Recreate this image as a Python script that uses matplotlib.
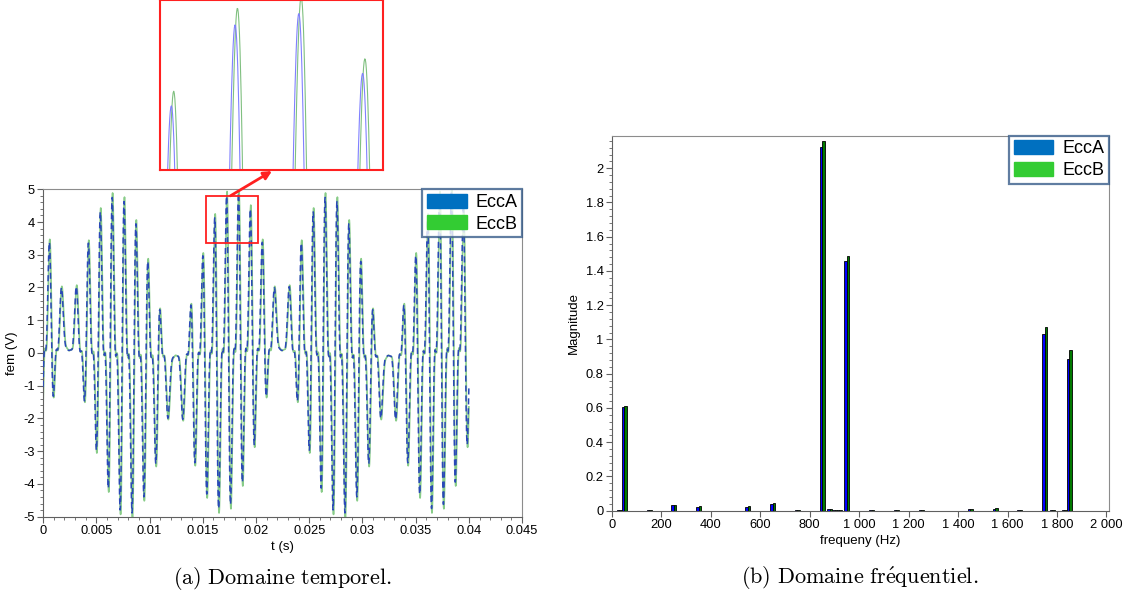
import numpy as np
import matplotlib.pyplot as plt
from matplotlib.patches import Patch, Rectangle
from matplotlib.ticker import MultipleLocator

plt.rcParams['font.family'] = ['Liberation Sans', 'DejaVu Sans']
plt.rcParams['axes.unicode_minus'] = False
plt.rcParams['mathtext.fontset'] = 'cm'

# spectrum
freq = [30, 50, 150, 250, 350, 550, 650, 750, 850, 880, 900, 920, 950,
        1050, 1150, 1250, 1450, 1550, 1650, 1750, 1780, 1830, 1850]
mag_a = [0.004, 0.604, 0.003, 0.033, 0.022, 0.022, 0.038, 0.003, 2.126, 0.008, 0.005, 0.005, 1.458,
         0.002, 0.003, 0.003, 0.008, 0.012, 0.002, 1.034, 0.005, 0.004, 0.888]
mag_b = [0.003, 0.613, 0.002, 0.036, 0.025, 0.027, 0.043, 0.002, 2.161, 0.010, 0.005, 0.006, 1.488,
         0.002, 0.003, 0.003, 0.009, 0.014, 0.002, 1.075, 0.006, 0.005, 0.939]

# time trace rebuilt from the main lines of the spectrum
t_end = 0.04
t_centre = 0.00687   # carrier zero crossing (read from the peaks)
t_env = 0.0074       # envelope maximum of the first burst
t_50 = 0.002         # 50 Hz maximum
lag_b = 4e-5         # EccB lags EccA (inset)

t = np.arange(0, t_end + 1e-7, 1e-5)


def fem(mag, lag):
    m = dict(zip(freq, mag))
    tt = t - lag
    y = m[50] * np.cos(2 * np.pi * 50 * (tt - t_50))
    for f in (850, 950):
        y -= m[f] * np.sin(2 * np.pi * 900 * (tt - t_centre) + 2 * np.pi * (f - 900) * (tt - t_env))
    for f in (1750, 1850):
        y += m[f] * np.sin(2 * np.pi * 1800 * (tt - t_centre) + 2 * np.pi * (f - 1800) * (tt - t_env))
    return y


ecc_a = fem(mag_a, 0)
ecc_b = fem(mag_b, lag_b)

fig = plt.figure(figsize=(11.36, 6.08), dpi=100)

leg_handles = [Patch(color='#0070c0', label='EccA'), Patch(color='#33cc33', label='EccB')]


def style(ax):
    for s in ['top', 'right']:
        ax.spines[s].set_color('#8c8c8c')
    for s in ['left', 'bottom']:
        ax.spines[s].set_color('#606060')
    ax.tick_params(which='both', direction='out', color='#606060', labelsize=9.3, pad=2)
    ax.tick_params(which='major', length=4)
    ax.tick_params(which='minor', length=2)
    ax.legend(handles=leg_handles, loc='upper right', fontsize=13, frameon=True,
              fancybox=False, edgecolor='#385d8a', borderpad=0.25, labelspacing=0.25,
              handlelength=2.2, handleheight=0.8, handletextpad=0.5, borderaxespad=0)
    ax.get_legend().get_frame().set_linewidth(1.6)


# (a) time domain
ax1 = fig.add_axes([0.0379, 0.1502, 0.4217, 0.5385])
ax1.plot(t, ecc_b, color='#88cc88', lw=1.2, zorder=2)
ax1.plot(t, ecc_a, color='#2a48b8', lw=1.1, dashes=(4, 2.5), zorder=3)
ax1.set_xlim(0, 0.045)
ax1.set_ylim(-5, 5)
ax1.set_xticks(np.arange(0, 0.0451, 0.005).round(3))
ax1.set_xticklabels(['0', '0.005', '0.01', '0.015', '0.02', '0.025', '0.03', '0.035', '0.04', '0.045'])
ax1.xaxis.set_minor_locator(MultipleLocator(0.001))
ax1.yaxis.set_major_locator(MultipleLocator(1))
ax1.yaxis.set_minor_locator(MultipleLocator(0.2))
ax1.set_xlabel('t (s)', fontsize=9.5, labelpad=3)
ax1.set_ylabel('fem (V)', fontsize=9.5, labelpad=4)
style(ax1)

# red box and zoom inset
box_t = (0.0153, 0.0202)
box_y = (3.37, 4.80)
ax1.add_patch(Rectangle((box_t[0], box_y[0]), box_t[1] - box_t[0], box_y[1] - box_y[0],
                        fill=False, edgecolor='#ff2020', lw=1.3, zorder=5))
ax1.annotate('', xy=(272 / 1136, 1 - 171 / 608), xycoords='figure fraction',
             xytext=(0.0176, box_y[1]), textcoords='data',
             arrowprops=dict(arrowstyle='-|>', color='#ff2020', lw=2, mutation_scale=12,
                             shrinkA=0, shrinkB=0), zorder=6)

axin = fig.add_axes([160 / 1136, 1 - 170 / 608, 223 / 1136, 170 / 608])
axin.plot(t, ecc_b, color='#80c080', lw=0.8)
axin.plot(t, ecc_a, color='#8080ff', lw=0.8)
axin.set_xlim(0.01593, 0.01983)
axin.set_ylim(3.6, 5.0)
axin.set_xticks([])
axin.set_yticks([])
for s in axin.spines.values():
    s.set_color('#ff2020')
    s.set_linewidth(1.5)

# (b) frequency domain
ax2 = fig.add_axes([0.5387, 0.16, 0.4375, 0.6168])
f = np.array(freq)
ax2.bar(f - 5, mag_a, width=10, color='#0000ff', edgecolor='black', lw=0.6, zorder=2)
ax2.bar(f + 5, mag_b, width=10, color='#007a00', edgecolor='black', lw=0.6, zorder=2)
ax2.set_xlim(0, 2010)
ax2.set_ylim(0, 2.19)
xt = list(range(0, 2001, 200))
ax2.set_xticks(xt)
ax2.set_xticklabels([f'{v:,}'.replace(',', ' ') for v in xt])
yt = np.arange(0, 2.01, 0.2).round(1)
ax2.set_yticks(yt)
ax2.set_yticklabels([f'{v:g}' for v in yt])
ax2.yaxis.set_minor_locator(MultipleLocator(0.04))
ax2.set_xlabel('frequeny (Hz)', fontsize=9.5, labelpad=3)
ax2.set_ylabel('Magnitude', fontsize=9.5, labelpad=4)
style(ax2)

fig.text(282 / 1136, 1 - 578 / 608, r'$\mathrm{(a)\ Domaine\ temporel.}$', fontsize=16,
         ha='center', va='center')
fig.text(860 / 1136, 1 - 578 / 608, r'$\mathrm{(b)\ Domaine\ fr\acute{e}quentiel.}$', fontsize=16,
         ha='center', va='center')

fig.savefig('out.png', dpi=100)
